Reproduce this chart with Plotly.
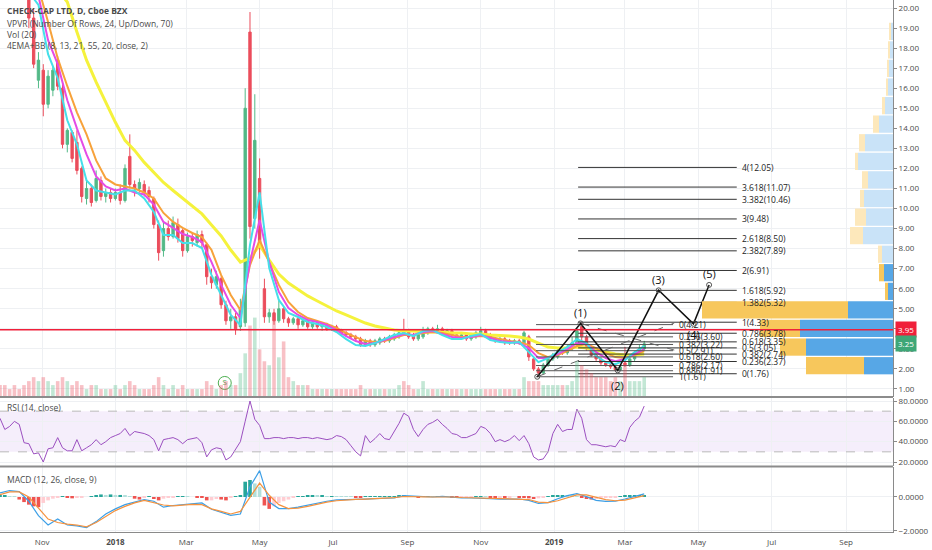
import plotly.graph_objects as go
import pandas as pd

# ---------------- DATA ----------------
START = "2017-09-27"
candle_dates = pd.date_range(START, periods=135, freq="4D")
line_dates = pd.date_range(START, periods=68, freq="8D")

opens = [24.5,24.0,23.5,23.0,22.5,22.0,21.0,19.5,16.4,16.9,
         15.2,15.9,17.4,16.0,13.2,13.8,13.3,12.0,10.5,11.0,
         10.4,11.4,10.6,10.8,10.5,10.8,10.4,12.6,11.2,11.0,
         11.2,10.9,10.5,9.2,7.9,9.0,8.6,9.2,8.9,7.9,
         8.6,8.3,8.7,8.2,6.6,6.2,6.5,5.2,4.4,4.6,
         4.1,4.3,18.8,9.5,11.5,6.0,4.6,4.8,4.4,5.0,
         4.5,4.3,4.5,4.2,4.4,4.1,4.3,4.1,4.2,4.0,
         4.1,3.95,3.8,3.7,3.6,3.5,3.2,3.4,3.2,3.3,
         3.5,3.4,3.5,3.6,3.9,3.9,3.7,3.5,3.6,3.8,
         4.0,3.9,4.0,3.8,3.9,3.7,3.6,3.7,3.5,3.6,
         3.7,3.9,3.7,3.5,3.4,3.5,3.4,3.3,3.4,3.3,
         3.6,2.5,2.0,1.8,2.2,2.5,2.6,2.9,2.8,3.0,
         3.3,4.1,3.6,3.0,2.7,2.5,2.3,2.2,2.1,1.95,
         2.3,2.2,2.5,2.8,3.0]
highs = [25.0,24.5,24.0,23.5,23.0,22.5,21.5,20.0,17.8,17.2,
         16.9,17.1,17.6,16.2,14.0,13.9,13.9,12.1,11.5,11.2,
         11.9,11.6,11.0,11.0,11.0,11.2,12.2,13.7,11.4,11.5,
         11.4,11.1,10.6,9.4,9.3,9.4,9.6,9.5,9.0,8.8,
         8.8,8.9,8.9,8.3,7.0,6.9,6.6,5.4,5.0,4.8,
         5.5,16.0,19.8,15.7,12.5,6.5,5.0,5.0,5.4,5.1,
         4.6,4.6,4.6,4.5,4.5,4.4,4.4,4.3,4.3,4.2,
         4.2,4.0,3.9,3.8,3.7,3.6,3.5,3.5,3.5,3.6,
         3.6,3.7,3.8,3.9,4.5,4.0,3.8,3.8,4.1,4.1,
         4.1,4.2,4.1,4.0,4.0,3.8,3.8,3.8,3.8,3.9,
         4.1,4.0,3.8,3.6,3.6,3.6,3.5,3.5,3.5,3.9,
         3.7,2.6,2.1,2.3,2.6,2.8,3.0,3.0,3.2,3.6,
         4.0,4.3,3.7,3.1,2.8,2.6,2.4,2.3,2.2,2.2,
         3.1,2.6,2.9,3.2,3.4]
lows = [23.8,23.0,22.5,22.0,21.5,20.6,19.0,17.0,16.0,14.6,
        15.0,15.6,15.9,13.0,12.8,12.3,11.7,10.3,10.2,10.1,
        10.3,10.4,10.3,10.3,10.4,10.2,10.3,11.0,10.6,10.8,
        10.6,10.3,9.0,7.4,7.6,8.4,8.5,8.3,7.6,7.8,
        8.1,8.1,8.0,6.2,6.0,6.0,5.0,4.2,4.0,3.7,
        3.9,4.1,8.5,9.0,7.5,4.3,4.3,4.2,4.3,4.3,
        4.1,4.2,4.0,4.1,4.0,4.0,4.0,3.9,3.9,3.9,
        3.85,3.7,3.6,3.5,3.4,3.1,3.1,3.1,3.1,3.2,
        3.3,3.3,3.4,3.5,3.7,3.5,3.4,3.4,3.5,3.7,
        3.8,3.8,3.7,3.7,3.6,3.5,3.5,3.4,3.4,3.5,
        3.6,3.6,3.4,3.3,3.3,3.2,3.2,3.2,3.2,3.2,
        2.4,1.9,1.61,1.75,2.1,2.4,2.5,2.7,2.7,2.9,
        3.2,3.4,2.9,2.6,2.4,2.2,2.1,2.0,1.88,1.9,
        2.1,2.1,2.4,2.7,2.9]
closes = [24.0,23.5,23.0,22.5,22.0,21.0,19.5,17.2,17.4,15.2,
          16.6,16.9,16.1,13.2,13.9,12.5,11.9,10.6,11.0,10.3,
          11.5,10.6,10.8,10.5,10.8,10.4,12.0,11.2,11.0,11.3,
          10.8,10.6,9.2,7.8,9.0,8.6,9.3,8.5,7.9,8.6,
          8.4,8.7,8.3,6.6,6.3,6.6,5.2,4.4,4.6,4.0,
          5.0,15.0,9.1,13.4,8.0,4.6,4.8,4.4,5.0,4.5,
          4.3,4.5,4.2,4.4,4.1,4.3,4.1,4.2,4.0,4.1,
          3.95,3.8,3.7,3.6,3.5,3.2,3.4,3.2,3.4,3.5,
          3.4,3.6,3.7,3.8,3.8,3.6,3.5,3.7,3.9,4.0,
          3.9,4.0,3.8,3.9,3.7,3.6,3.7,3.5,3.7,3.8,
          3.9,3.7,3.5,3.4,3.5,3.3,3.3,3.4,3.3,3.8,
          2.6,2.0,1.8,2.2,2.5,2.7,2.9,2.8,3.0,3.3,
          3.9,3.6,3.0,2.7,2.5,2.3,2.2,2.1,1.95,2.1,
          2.2,2.5,2.8,3.0,3.25]
volume = [3,3,2,3,2,3,4,5,4,5, 4,3,4,5,4,3,4,3,2,3,
          3,2,2,2,3,2,3,4,3,2, 2,2,3,5,3,2,3,2,3,2,
          2,2,2,4,3,2,3,4,3,3,
          6,11,18,20,12,9,8,21,10,14,5,
          4,3,3,3,2,2,2,2,2,2,
          2,2,2,2,3,2,2,2,2,2,2,2,3,
          4,3,2,2,4,
          2,2,2,2,2,2,2,2,2,2,2,2,2,2,2,2,2,2,2,2,
          5,4,4,4,3,3,3,3,3,3,4,
          9,8,7,6,5,5,5,4,5,4,8,4,4,4,5]

ema8 = [24.5,23.5,22,20.8,20.15,17.7,16.5,14.4,13.2,11.4,
        10.9,10.8,10.7,10.9,10.9,10.5,9.83,8.68,8.68,8.28,
        8.28,8.03,6.68,5.69,4.69,4.19,8.18,10.8,7.03,5.44,
        4.79,4.59,4.34,4.24,4.09,3.84,3.49,3.19,3.14,3.29,
        3.49,3.69,3.79,3.64,3.89,3.94,3.69,3.49,3.49,3.64,
        3.74,3.44,3.34,3.29,3.34,2.84,2.34,2.54,2.84,3.09,
        3.49,3.29,2.64,2.34,2.24,2.44,2.84,3.14]
ema13 = [25,24,22.5,21.5,20.6,18.4,17.2,15.4,14.0,12.7,
         11.6,11.1,10.9,11.0,10.8,10.7,10.2,9.33,9.03,8.73,
         8.58,8.33,7.33,6.19,5.19,4.54,7.33,9.43,7.33,5.84,
         5.04,4.69,4.44,4.34,4.19,3.94,3.64,3.39,3.24,3.29,
         3.44,3.59,3.74,3.69,3.84,3.89,3.74,3.59,3.54,3.59,
         3.69,3.54,3.39,3.34,3.29,3.04,2.54,2.54,2.74,2.99,
         3.29,3.24,2.84,2.54,2.39,2.49,2.74,2.99]
ema21 = [25,24,23,22,21,19.3,17.5,16.1,14.8,13.7,
         12.4,11.5,11.2,11.1,11.0,10.8,10.5,9.78,9.33,9.03,
         8.78,8.58,7.93,6.68,5.69,4.94,7.18,8.43,7.33,6.19,
         5.34,4.84,4.54,4.39,4.24,4.04,3.79,3.59,3.39,3.34,
         3.39,3.54,3.69,3.69,3.79,3.84,3.79,3.69,3.59,3.59,
         3.64,3.59,3.49,3.39,3.34,3.19,2.79,2.59,2.69,2.89,
         3.14,3.24,3.04,2.79,2.59,2.54,2.69,2.89]
ema55 = [26,25.5,24.5,23.5,22.5,21.6,20.9,20.3,18.8,17.4,
         16.3,15.3,14.3,13.4,12.9,12.3,11.8,11.3,10.9,10.5,
         10.1,9.73,9.18,8.63,7.93,7.33,7.53,8.18,7.43,6.73,
         6.28,5.94,5.64,5.39,5.14,4.89,4.69,4.49,4.29,4.14,
         4.04,3.94,3.89,3.89,3.84,3.84,3.84,3.79,3.79,3.74,
         3.74,3.69,3.67,3.64,3.59,3.49,3.29,3.09,3.04,3.04,
         3.09,3.04,2.94,2.84,2.74,2.69,2.69,2.74]

rsi = [63,52,55,60,57,39,38,28,29,20, 33,34,44,34,31,31,42,31,34,37,
       42,37,40,44,46,48,53,46,50,49, 48,46,42,31,42,43,44,42,38,42,
       43,44,39,25,32,34,33,22,25,32, 40,60,80,62,56,43,43,44,44,43,
       44,44,43,44,44,43,44,43,42,43, 46,45,42,36,30,26,46,39,43,48,
       43,42,50,58,68,65,52,45,52,57, 59,62,57,53,48,47,44,44,46,48,
       55,53,48,40,42,40,42,46,41,46, 38,25,22,23,30,48,57,50,52,52,
       72,63,42,37,37,36,35,36,35,42, 40,54,60,64,75]

macd_line = [0.24,0.38,0.32,-0.25,-1.1,-1.65,-1.3,-1.65,-1.7,-1.8,
             -1.45,-1.0,-0.7,-0.45,-0.3,-0.15,-0.25,-0.6,-0.5,-0.45,
             -0.4,-0.35,-0.72,-0.9,-1.08,-1.0,0.6,1.55,-0.3,-0.68,
             -0.68,-0.6,-0.48,-0.35,-0.25,-0.17,-0.14,-0.12,-0.12,-0.1,
             -0.08,-0.06,0.08,0.05,0.0,0.0,0.04,-0.02,-0.05,-0.06,
             -0.06,-0.1,-0.12,-0.14,-0.12,-0.2,-0.38,-0.33,-0.1,0.08,
             0.2,0.02,-0.2,-0.26,-0.24,-0.12,0.05,0.18]
macd_signal = [0.14,0.3,0.3,0.0,-0.65,-1.3,-1.5,-1.6,-1.65,-1.76,
               -1.5,-1.15,-0.8,-0.55,-0.35,-0.2,-0.35,-0.47,-0.52,-0.48,
               -0.43,-0.45,-0.7,-0.85,-1.0,-0.85,0.0,0.82,0.1,-0.45,
               -0.68,-0.65,-0.55,-0.42,-0.3,-0.22,-0.17,-0.14,-0.12,-0.1,
               -0.08,-0.04,0.03,0.04,0.01,0.0,0.02,0.0,-0.03,-0.05,
               -0.06,-0.08,-0.11,-0.12,-0.12,-0.15,-0.3,-0.33,-0.22,-0.05,
               0.12,0.12,0.0,-0.15,-0.22,-0.18,-0.05,0.08]
macd_hist = [0.1,0.1,0.05,0.02,-0.15,-0.3,-0.45,-0.55,-0.6,-0.35,
             -0.2,-0.1,-0.05,0.05,-0.05,-0.08,-0.05,-0.03,0.0,0.05,
             0.1,0.15,0.12,0.15,0.12,0.12,0.1,0.05,-0.1,-0.15,
             -0.05,0.05,-0.12,-0.2,-0.1,-0.05,-0.03,0.02,0.03,0.02,
             0.0,-0.02,-0.05,-0.2,-0.2,-0.12,-0.15,-0.2,-0.05,0.03,
             0.1,0.9,1.0,0.8,0.6,-0.5,-0.7,-0.55,-0.35,-0.25,
             -0.15,-0.05,0.05,0.05,0.06,0.07,0.06,0.06,0.05,0.05,
             0.04,0.03,0.02,0.01,-0.01,-0.02,0.01,0.01,0.02,0.02,
             0.02,0.03,0.05,0.06,0.08,0.05,0.02,-0.01,0.02,0.03,
             0.02,0.03,0.02,0.0,-0.02,-0.03,-0.02,-0.02,-0.01,0.01,
             0.03,0.01,-0.01,-0.02,-0.02,-0.03,-0.02,0.0,-0.01,-0.04,
             -0.08,-0.12,-0.08,-0.02,0.03,0.08,0.1,0.1,0.08,0.06,
             0.05,-0.05,-0.12,-0.15,-0.12,-0.08,-0.06,-0.04,-0.02,0.02,
             0.06,0.08,0.1,0.1,0.1]

# volume profile (VPVR) rows
vp_price = [18.84,17.91,16.99,16.06,15.13,14.21,13.28,12.35,11.43,10.50,
            9.57,8.65,7.72,6.80,5.87,4.94,4.02,3.09,2.16]
vp_up = [2,3,4,5,8,14,28,35,25,29,27,30,11,9,5,45,93,87,29]
vp_down = [2,2,2,2,3,6,6,3,6,4,11,13,4,5,3,146,40,26,58]

# fib extension & retracement
ext_ratios = ["4","3.618","3.382","3","2.618","2.382","2","1.618","1.382","1",
              "0.786","0.618","0.5","0.382","0.236","0"]
ext_prices = [12.05,11.07,10.46,9.48,8.50,7.89,6.91,5.92,5.32,4.33,
              3.78,3.35,3.05,2.74,2.37,1.76]
ret_ratios = ["0","0.236","0.382","0.5","0.618","0.786","0.886","1"]
ret_prices = [4.21,3.60,3.22,2.91,2.60,2.17,1.91,1.61]

# Elliott wave
ew_dates = ["2018-12-18","2019-01-23","2019-02-23","2019-03-29","2019-04-27","2019-05-10"]
ew_prices = [1.61,4.27,1.93,5.92,4.25,6.19]
ew_labels = ["","(1)","(2)","(3)","(4)","(5)"]

last_price_red = 3.95
last_price_green = 3.25

tick_dates = ["2017-11-01","2018-01-01","2018-03-01","2018-05-01","2018-07-01","2018-09-01",
              "2018-11-01","2019-01-01","2019-03-01","2019-05-01","2019-07-01","2019-09-01"]
tick_text = ["Nov","<b>2018</b>","Mar","May","Jul","Sep","Nov","<b>2019</b>","Mar","May","Jul","Sep"]

# ---------------- LAYOUT HELPERS ----------------
W, H = 932, 550
MR, MB = 39, 18
PW, PH = W - MR, H - MB


def fx(px):
    return px / PW


def fy(py):
    return 1 - py / PH


UP = "#53b987"
DOWN = "#eb4d5c"
FONT = "Open Sans"
GRID = "#eef0f3"
AXC = "#8a8a8a"

fig = go.Figure()

# volume
vol_colors = ["rgba(83,185,135,0.35)" if c >= o else "rgba(235,77,92,0.35)" for o, c in zip(opens, closes)]
fig.add_trace(go.Bar(x=candle_dates, y=volume, xaxis="x", yaxis="y4", marker_color=vol_colors,
                     marker_line_width=0, width=3 * 86400000, showlegend=False))

# VPVR
n_rows = len(vp_price)
blue_cols = ["#c9e3f8"] * (n_rows - 6) + ["#57a7e6"] * 6
yel_cols = ["#fde8bb"] * (n_rows - 6) + ["#f7c75c"] * 6
fig.add_trace(go.Bar(orientation="h", y=vp_price, x=vp_up, base=[0] * n_rows, xaxis="x4", yaxis="y",
                     marker_color=blue_cols, marker_line_width=0, width=0.86, showlegend=False))
fig.add_trace(go.Bar(orientation="h", y=vp_price, x=vp_down, base=vp_up, xaxis="x4", yaxis="y",
                     marker_color=yel_cols, marker_line_width=0, width=0.86, showlegend=False))

# EMAs
for vals, col, w in [(ema55, "#f5f23c", 3), (ema21, "#f7a23a", 2), (ema13, "#e44ce6", 2), (ema8, "#45dfe9", 2)]:
    fig.add_trace(go.Scatter(x=line_dates, y=vals, mode="lines", line=dict(color=col, width=w),
                             xaxis="x", yaxis="y", showlegend=False, hoverinfo="skip"))

# candles
fig.add_trace(go.Candlestick(x=candle_dates, open=opens, high=highs, low=lows, close=closes,
                             xaxis="x", yaxis="y",
                             increasing=dict(line=dict(color=UP, width=1), fillcolor=UP),
                             decreasing=dict(line=dict(color=DOWN, width=1), fillcolor=DOWN),
                             showlegend=False))

# fib retracement lines
rx, ry = [], []
for p in ret_prices:
    rx += ["2018-12-17", "2019-04-10", None]
    ry += [p, p, None]
fig.add_trace(go.Scatter(x=rx, y=ry, mode="lines", line=dict(color="#555555", width=1),
                         xaxis="x", yaxis="y", showlegend=False, hoverinfo="skip"))
# fib extension lines
ex, ey = [], []
for p in ext_prices:
    ex += ["2019-01-21", "2019-06-02", None]
    ey += [p, p, None]
fig.add_trace(go.Scatter(x=ex, y=ey, mode="lines", line=dict(color="#333333", width=1),
                         xaxis="x", yaxis="y", showlegend=False, hoverinfo="skip"))
# dashed diagonals
fig.add_trace(go.Scatter(x=[ew_dates[0], "2019-04-11", None, ew_dates[1], "2019-04-11"],
                         y=[ew_prices[0], 4.29, None, ew_prices[1], 2.94], mode="lines",
                         line=dict(color="#666666", width=1, dash="dash"),
                         xaxis="x", yaxis="y", showlegend=False, hoverinfo="skip"))
# Elliott wave
fig.add_trace(go.Scatter(x=ew_dates, y=ew_prices, mode="lines+markers",
                         line=dict(color="#111111", width=1.5),
                         marker=dict(symbol="circle-open", size=5, color="#555555"),
                         xaxis="x", yaxis="y", showlegend=False, hoverinfo="skip"))

# S marker
fig.add_trace(go.Scatter(x=["2018-04-02"], y=[1.3], mode="markers+text", text=["S"],
                         textfont=dict(color="#4caf50", size=8, family=FONT),
                         marker=dict(symbol="circle-open", size=13, color="#4caf50", line=dict(width=1)),
                         xaxis="x", yaxis="y", showlegend=False, hoverinfo="skip"))

# RSI
fig.add_trace(go.Scatter(x=candle_dates, y=rsi, mode="lines", line=dict(color="#9b4fc0", width=1),
                         xaxis="x2", yaxis="y2", showlegend=False, hoverinfo="skip"))

# MACD
hist_cols = []
prev = 0.0
for h in macd_hist:
    if h >= 0:
        hist_cols.append("#26a69a" if h >= prev else "#b2dfdb")
    else:
        hist_cols.append("#ef5350" if h < prev else "#ffcdd2")
    prev = h
fig.add_trace(go.Bar(x=candle_dates, y=macd_hist, marker_color=hist_cols, marker_line_width=0,
                     width=3 * 86400000, xaxis="x3", yaxis="y3", showlegend=False))
fig.add_trace(go.Scatter(x=line_dates, y=macd_line, mode="lines", line=dict(color="#3d9fe6", width=1.2),
                         xaxis="x3", yaxis="y3", showlegend=False, hoverinfo="skip"))
fig.add_trace(go.Scatter(x=line_dates, y=macd_signal, mode="lines", line=dict(color="#f5923e", width=1.2),
                         xaxis="x3", yaxis="y3", showlegend=False, hoverinfo="skip"))

# ---------------- AXES ----------------
main_dom = [fy(397), 1]
rsi_dom = [fy(466), fy(398)]
macd_dom = [0, fy(467)]
xr = ["2017-09-27", "2019-10-10"]
tickfont = dict(family=FONT, size=8, color="#4a4a4a")

common_x = dict(range=xr, tickvals=tick_dates, showgrid=True, gridcolor=GRID, zeroline=False)
yax = dict(side="right", showgrid=True, gridcolor=GRID, zeroline=False, showline=True, linecolor=AXC,
           ticks="outside", ticklen=3, tickcolor=AXC, tickfont=tickfont, automargin=False)

fig.update_layout(
    width=W, height=H, margin=dict(l=0, r=MR, t=0, b=MB, autoexpand=False),
    paper_bgcolor="white", plot_bgcolor="white", barmode="overlay", showlegend=False,
    xaxis=dict(**common_x, anchor="y", showticklabels=False, rangeslider=dict(visible=False)),
    xaxis2=dict(**common_x, anchor="y2", matches="x", showticklabels=False),
    xaxis3=dict(**common_x, anchor="y3", matches="x", ticktext=tick_text, tickfont=tickfont,
                showline=True, linecolor=AXC, ticks="", ticklabelstandoff=2),
    xaxis4=dict(overlaying="x", anchor="y", range=[PW, 0], visible=False),
    yaxis=dict(**yax, domain=main_dom, range=[0.6, 20.4], tickvals=list(range(1, 21)), tickformat=".2f",
               anchor="x"),
    yaxis2=dict(**yax, domain=rsi_dom, range=[16.07, 82.95], tickvals=[20, 40, 60, 80], tickformat=".4f",
                anchor="x2"),
    yaxis3=dict(**yax, domain=macd_dom, range=[-2.06, 1.765], tickvals=[-2, 0], tickformat=".4f",
                anchor="x3"),
    yaxis4=dict(overlaying="y", range=[0, 100], visible=False, anchor="x"),
)

shapes = []
# RSI band
shapes.append(dict(type="rect", xref="paper", yref="y2", x0=0, x1=1, y0=30, y1=70,
                   fillcolor="rgba(155,90,220,0.10)", line=dict(width=0), layer="below"))
for lv in (30, 70):
    shapes.append(dict(type="line", xref="paper", yref="y2", x0=0, x1=1, y0=lv, y1=lv,
                       line=dict(color="#b9b9b9", width=1, dash="dash")))
# red price line
shapes.append(dict(type="line", xref="paper", yref="y", x0=0, x1=1, y0=last_price_red, y1=last_price_red,
                   line=dict(color="#f0203a", width=1.5)))
# pane separators
for py in (397, 466.5):
    shapes.append(dict(type="line", xref="paper", yref="paper", x0=0, x1=1, y0=fy(py), y1=fy(py),
                       line=dict(color="#8c8c8c", width=2)))
fig.update_layout(shapes=shapes)

ann = []
legend_lines = [("<b>CHECK-CAP LTD, D, Cboe BZX</b>", 11), ("VPVR (Number Of Rows, 24, Up/Down, 70)", 23),
                ("Vol (20)", 34), ("4EMA+BB (8, 13, 21, 55, 20, close, 2)", 45)]
for txt, py in legend_lines:
    ann.append(dict(text=txt, xref="paper", yref="paper", x=fx(5), y=fy(py), xanchor="left", yanchor="middle",
                    showarrow=False, font=dict(family=FONT, size=8.5, color="#4a4a4a")))
ann.append(dict(text="RSI (14, close)", xref="paper", yref="paper", x=fx(5), y=fy(407), xanchor="left",
                yanchor="middle", showarrow=False, font=dict(family=FONT, size=8.5, color="#4a4a4a")))
ann.append(dict(text="MACD (12, 26, close, 9)", xref="paper", yref="paper", x=fx(5), y=fy(479), xanchor="left",
                yanchor="middle", showarrow=False, font=dict(family=FONT, size=8.5, color="#4a4a4a")))

for r, p in zip(ext_ratios, ext_prices):
    ann.append(dict(text=f"{r}({p:.2f})", xref="x", yref="y", x="2019-06-05", y=p, xanchor="left",
                    yanchor="middle", showarrow=False, font=dict(family=FONT, size=8.5, color="#222222")))
for r, p in zip(ret_ratios, ret_prices):
    ann.append(dict(text=f"{r}({p:.2f})", xref="x", yref="y", x="2019-04-13", y=p, xanchor="left",
                    yanchor="middle", showarrow=False, font=dict(family=FONT, size=8.5, color="#222222")))

shift = {"(1)": 11, "(2)": -15, "(3)": 11, "(4)": -11, "(5)": 11}
for d, p, lab in zip(ew_dates, ew_prices, ew_labels):
    if lab:
        ann.append(dict(text=lab, xref="x", yref="y", x=d, y=p, yshift=shift[lab], showarrow=False,
                        font=dict(family=FONT, size=11, color="#111111")))

for val, col in ((last_price_red, "#f0203a"), (last_price_green, "#3ea777")):
    ann.append(dict(text=f"{val:.2f}", xref="paper", yref="y", x=1, y=val, xanchor="left", yanchor="middle",
                    xshift=2, showarrow=False, bgcolor=col, borderpad=2,
                    font=dict(family=FONT, size=8, color="white")))
fig.update_layout(annotations=ann)

fig.write_html("out.html", config={"displayModeBar": False},
               post_script="document.body.style.margin='0px';document.body.style.overflow='hidden';")
